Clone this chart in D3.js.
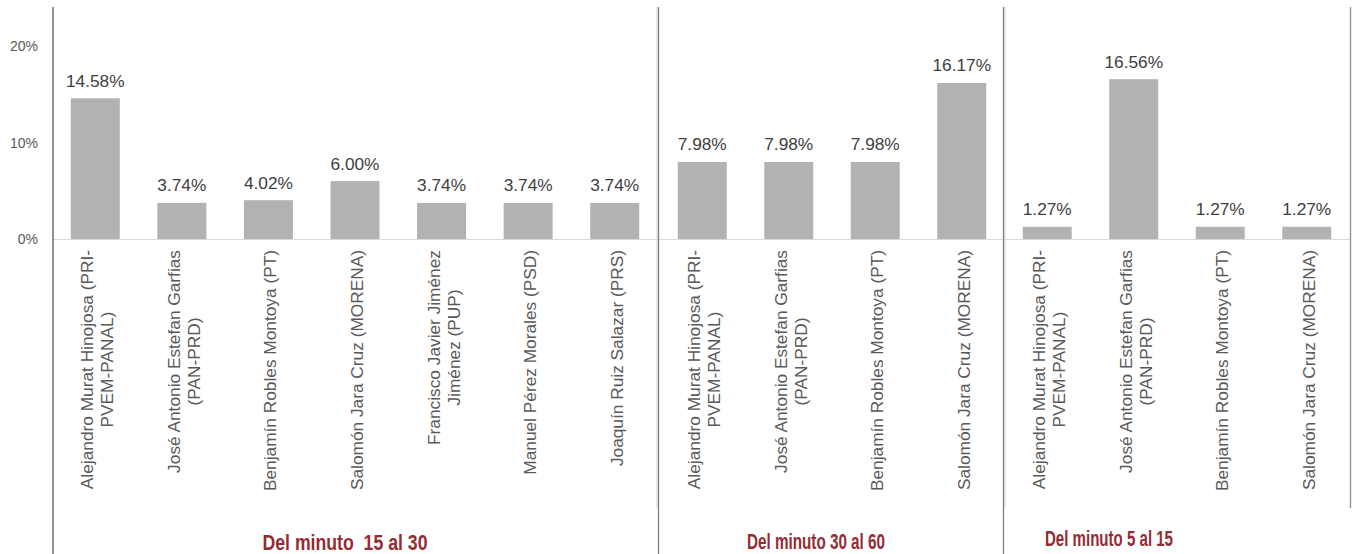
<!DOCTYPE html>
<html>
<head>
<meta charset="utf-8">
<script src="https://cdn.jsdelivr.net/npm/d3@7"></script>
<style>
  body { margin: 0; background: #fff; }
  svg { display: block; }
</style>
</head>
<body>
<div id="chart"></div>
<script>
// chart data, one array per block
var groupTitles = ["Del minuto  15 al 30", "Del minuto 30 al 60", "Del minuto 5 al 15"];

var cands1 = ["Alejandro Murat Hinojosa (PRI-\nPVEM-PANAL)", "José Antonio Estefan Garfias\n(PAN-PRD)",
  "Benjamín Robles Montoya (PT)", "Salomón Jara Cruz (MORENA)", "Francisco Javier Jiménez\nJiménez (PUP)",
  "Manuel Pérez Morales (PSD)", "Joaquín Ruiz Salazar (PRS)"];
var values1 = [14.58, 3.74, 4.02, 6.00, 3.74, 3.74, 3.74];

var cands2 = ["Alejandro Murat Hinojosa (PRI-\nPVEM-PANAL)", "José Antonio Estefan Garfias\n(PAN-PRD)",
  "Benjamín Robles Montoya (PT)", "Salomón Jara Cruz (MORENA)"];
var values2 = [7.98, 7.98, 7.98, 16.17];

var cands3 = ["Alejandro Murat Hinojosa (PRI-\nPVEM-PANAL)", "José Antonio Estefan Garfias\n(PAN-PRD)",
  "Benjamín Robles Montoya (PT)", "Salomón Jara Cruz (MORENA)"];
var values3 = [1.27, 16.56, 1.27, 1.27];

var yTicks = [0, 10, 20];

// layout
var W = 1356, H = 554;
var groupBounds = [[52, 658], [659, 1005], [1004, 1350]];
var dividers = [53, 658.5, 1003.5];
var titlePos = [[345, 550, 165], [816, 549, 138], [1109, 546, 128]];
var labelTop = 250;

var groups = [
  {cands: cands1, values: values1},
  {cands: cands2, values: values2},
  {cands: cands3, values: values3}
];

var svg = d3.select("#chart")
  .append("svg")
  .attr("width", W)
  .attr("height", H);

var y = d3.scaleLinear().domain([0, 20]).range([239, 46]);

// light inner frame lines
svg.append("g")
  .selectAll("line")
  .data([657, 1005])
  .enter()
  .append("line")
    .attr("x1", function(d) { return d; })
    .attr("x2", function(d) { return d; })
    .attr("y1", 7)
    .attr("y2", 508)
    .style("stroke", "#d9d9d9")
    .style("stroke-width", 1);

// right edge of the last block
svg.append("line")
  .attr("x1", 1350.5)
  .attr("x2", 1350.5)
  .attr("y1", 7)
  .attr("y2", 508)
  .style("stroke", "#8c8c8c")
  .style("stroke-width", 1.3);

// y axis labels
var yAxis = d3.axisLeft(y)
  .tickValues(yTicks)
  .tickSize(0)
  .tickPadding(0)
  .tickFormat(function(d) { return d + "%"; });

svg.append("g")
  .attr("transform", "translate(38,0)")
  .call(yAxis)
  .call(function(g) { g.select(".domain").remove(); })
  .selectAll("text")
    .attr("dy", "0.35em")
    .style("font-family", "'Liberation Sans', Arial, sans-serif")
    .style("font-size", "14px")
    .style("fill", "#595959");

// baseline
svg.append("line")
  .attr("x1", 53)
  .attr("x2", 1350)
  .attr("y1", y(0) + 0.5)
  .attr("y2", y(0) + 0.5)
  .style("stroke", "#d9d9d9")
  .style("stroke-width", 1);

groups.forEach(function(grp, gi) {
  var x = d3.scaleBand()
    .domain(d3.range(grp.cands.length))
    .range(groupBounds[gi])
    .paddingInner(0.434)
    .paddingOuter(0.217);

  var g = svg.append("g").attr("class", "group" + gi);

  g.selectAll("rect")
    .data(grp.values)
    .enter()
    .append("rect")
      .attr("x", function(d, i) { return x(i); })
      .attr("width", x.bandwidth())
      .attr("y", function(d) { return y(d); })
      .attr("height", function(d) { return y(0) - y(d); })
      .style("fill", "#b2b2b2");

  g.selectAll("text.val")
    .data(grp.values)
    .enter()
    .append("text")
      .attr("class", "val")
      .attr("x", function(d, i) { return x(i) + x.bandwidth() / 2; })
      .attr("y", function(d) { return y(d) - 11.5; })
      .attr("text-anchor", "middle")
      .style("font-family", "'Liberation Sans', Arial, sans-serif")
      .style("font-size", "17.3px")
      .style("fill", "#404040")
      .text(function(d) { return d.toFixed(2) + "%"; });

  // rotated category labels, lines centred on the longest line
  var lh = 20;
  g.selectAll("text.cat")
    .data(grp.cands)
    .enter()
    .append("text")
      .attr("class", "cat")
      .attr("text-anchor", "middle")
      .style("font-family", "'Liberation Sans', Arial, sans-serif")
      .style("font-size", "17.3px")
      .style("fill", "#595959")
      .each(function(d, i) {
        var t = d3.select(this);
        var lines = d.split("\n");
        lines.forEach(function(line, li) {
          t.append("tspan")
            .attr("x", 0)
            .attr("y", (li - (lines.length - 1) / 2) * lh)
            .attr("dominant-baseline", "central")
            .text(line);
        });
        var maxLen = 0;
        t.selectAll("tspan").each(function() {
          maxLen = Math.max(maxLen, this.getComputedTextLength());
        });
        var cx = x(i) + x.bandwidth() / 2 + 2;
        t.attr("transform", "translate(" + cx + "," + (labelTop + maxLen / 2) + ") rotate(-90)");
      });

  // block title, squeezed to the condensed width of the original
  g.append("text")
    .attr("x", titlePos[gi][0])
    .attr("y", titlePos[gi][1])
    .attr("text-anchor", "middle")
    .attr("xml:space", "preserve")
    .attr("textLength", titlePos[gi][2])
    .attr("lengthAdjust", "spacingAndGlyphs")
    .style("white-space", "pre")
    .style("font-family", "'Liberation Sans', Arial, sans-serif")
    .style("font-weight", "bold")
    .style("font-size", "22.5px")
    .style("fill", "#952b33")
    .text(groupTitles[gi]);
});

// divider lines
svg.append("g")
  .selectAll("line")
  .data(dividers)
  .enter()
  .append("line")
    .attr("x1", function(d) { return d; })
    .attr("x2", function(d) { return d; })
    .attr("y1", 7)
    .attr("y2", H)
    .style("stroke", function(d, i) { return i === 0 ? "#595959" : "#7f7f7f"; })
    .style("stroke-width", 1.3);
</script>
</body>
</html>
